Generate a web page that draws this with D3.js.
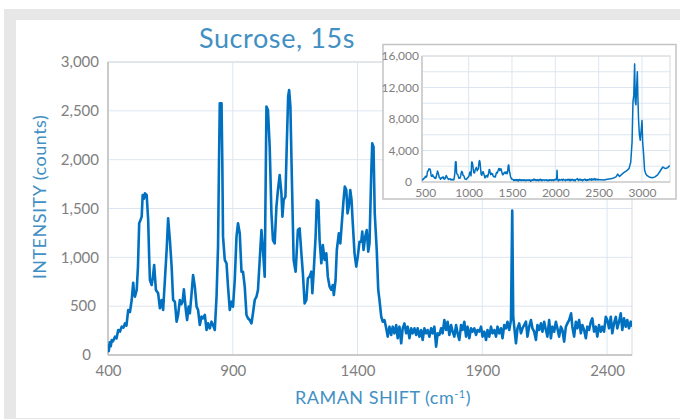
<!DOCTYPE html>
<html><head><meta charset="utf-8">
<script src="https://cdn.jsdelivr.net/npm/d3@7"></script>
<style>
html,body{margin:0;padding:0;background:#fff;}
svg{display:block;}
text{font-family:Lato, "Open Sans", sans-serif;}
</style></head>
<body>
<svg id="chart" width="680" height="419"></svg>
<script>
// ---- DATA ----
const mainShift = [400,403,407,411,415,420,428,434,441,448,455,462,468,474,481,488,495,501,505,508,515,520,525,530,535,539,544,548,555,561,565,568,575,580,585,592,601,608,615,621,628,635,641,648,655,661,668,675,681,688,694,699,704,712,717,723,728,735,741,748,755,761,768,775,781,788,795,801,808,815,821,828,835,841,845,848,855,858,861,868,875,881,888,895,901,908,915,921,928,935,941,948,955,961,968,975,981,988,995,1001,1008,1015,1021,1028,1032,1035,1041,1048,1055,1061,1068,1075,1081,1088,1095,1099,1104,1111,1117,1122,1126,1131,1137,1144,1152,1161,1168,1175,1181,1188,1195,1201,1208,1215,1219,1224,1232,1237,1243,1248,1255,1261,1268,1275,1281,1288,1295,1301,1305,1312,1317,1325,1331,1337,1344,1349,1355,1360,1365,1371,1376,1381,1388,1395,1401,1408,1415,1419,1424,1431,1437,1443,1448,1455,1459,1464,1469,1477,1483,1488,1495,1501,1508,1515,1521,1528,1535,1541,1548,1555,1561,1568,1575,1581,1588,1595,1601,1608,1615,1621,1628,1635,1641,1648,1655,1661,1668,1675,1681,1688,1695,1701,1708,1715,1721,1728,1735,1741,1748,1755,1761,1768,1775,1781,1788,1795,1801,1808,1815,1821,1828,1835,1841,1848,1855,1861,1868,1875,1881,1888,1895,1901,1908,1915,1921,1928,1935,1941,1948,1955,1961,1968,1975,1981,1988,1995,2001,2008,2015,2020,2024,2028,2035,2041,2048,2055,2061,2068,2075,2081,2088,2095,2101,2108,2115,2121,2128,2135,2141,2148,2155,2161,2168,2175,2181,2188,2195,2201,2208,2215,2221,2228,2235,2241,2248,2256,2261,2268,2275,2281,2288,2295,2301,2308,2315,2321,2328,2335,2341,2348,2355,2361,2368,2375,2381,2388,2395,2401,2408,2415,2421,2428,2435,2441,2448,2455,2461,2468,2475,2481,2488,2495,2501];
const mainCounts = [110,40,130,90,154,140,188,170,256,240,290,280,324,300,461,440,563,740,620,597,666,900,1348,1380,1417,1638,1600,1655,1638,1382,1000,768,717,800,922,666,632,478,563,461,768,1075,1399,1177,905,563,546,341,410,563,520,546,672,461,358,495,427,632,819,700,495,461,307,393,376,410,256,324,273,341,307,256,597,1110,2000,2577,2577,2000,1212,973,939,700,461,546,495,768,1212,1348,1246,853,853,700,410,376,358,324,427,563,597,666,973,1280,1075,802,1800,2543,2509,2133,1450,1177,1143,1519,1689,1843,1655,1417,1587,1621,2202,2650,2713,2543,1792,973,853,1280,1297,1041,836,529,563,785,802,853,632,836,1212,1587,1570,1177,939,1126,973,1041,802,700,666,717,614,768,1075,1246,1143,1348,1587,1724,1689,1450,1519,1689,1587,1348,1041,905,1007,1160,1160,1263,1075,1212,1280,1058,1143,1860,2167,2133,1450,1075,666,563,393,341,358,273,188,290,205,290,222,307,171,290,120,273,324,222,290,171,273,222,273,205,273,188,256,154,273,222,256,188,273,222,290,85,222,205,273,222,358,256,341,205,307,239,188,307,222,154,307,256,341,188,290,171,273,239,273,205,256,239,290,188,239,154,256,188,290,222,256,188,290,222,273,171,307,273,341,256,358,1478,392,290,120,273,324,222,273,307,341,188,290,358,273,239,154,307,256,324,239,341,256,188,358,171,290,239,341,273,188,290,256,137,290,324,358,427,290,188,341,273,358,222,307,256,171,290,256,341,375,239,290,188,307,239,290,239,392,358,273,392,222,324,392,273,341,427,256,375,290,358,273,341,290];
// high-wavenumber part shown only in the inset (full spectrum)
const highShift = [2520,2560,2600,2640,2680,2700,2720,2740,2760,2790,2820,2850,2870,2885,2896,2905,2915,2922,2930,2938,2946,2952,2960,2970,2980,2990,3000,3008,3018,3030,3045,3060,3090,3120,3150,3180,3210,3240,3270,3295,3320];
const highCounts = [300,250,350,400,550,650,1000,700,900,1200,1400,1700,2500,5000,10200,11000,15000,10200,9800,12000,14000,11000,8000,6000,5300,6500,7800,5000,3600,1500,1000,800,600,550,650,900,1400,1900,1700,1800,2100];

const title = "Sucrose, 15s";
const yTitle = "INTENSITY (counts)";
const mainXTicks = [400,900,1400,1900,2400];
const mainYTicks = [0,500,1000,1500,2000,2500,3000];
const insetXTicks = [500,1000,1500,2000,2500,3000];
const insetYLabels = [0,4000,8000,12000,16000];
const insetYGrid = [0,2000,4000,6000,8000,10000,12000,14000,16000];

// ---- DRAW ----
const svg = d3.select("#chart");
const blue = "#0070c0", grid = "#dce6f1", tickCol = "#808080", titleCol = "#4290c3";

// frame
svg.append("rect").attr("x",4).attr("y",9).attr("width",676).attr("height",410).attr("fill","#e7e7e7");
svg.append("rect").attr("x",16).attr("y",20).attr("width",664).attr("height",398).attr("fill","#fff");

const x = d3.scaleLinear().domain([400,2500]).range([108,632]);
const y = d3.scaleLinear().domain([0,3000]).range([355,62]);

const defs = svg.append("defs");
defs.append("clipPath").attr("id","clipMain").append("rect")
  .attr("x",x.range()[0]).attr("y",y.range()[1]-4).attr("width",x.range()[1]-x.range()[0]).attr("height",y.range()[0]-y.range()[1]+6);

// gridlines
svg.append("g").selectAll("line").data(mainYTicks.slice(1)).join("line")
  .attr("x1",x.range()[0]).attr("x2",x.range()[1]).attr("y1",d=>y(d)).attr("y2",d=>y(d))
  .attr("stroke",grid).attr("stroke-width",1);
svg.append("g").selectAll("line").data(mainXTicks.slice(1)).join("line")
  .attr("x1",d=>x(d)).attr("x2",d=>x(d)).attr("y1",y.range()[0]).attr("y2",y.range()[1])
  .attr("stroke",grid).attr("stroke-width",1);
// plot border
svg.append("rect").attr("x",x.range()[0]).attr("y",y.range()[1]).attr("width",x.range()[1]-x.range()[0]).attr("height",y.range()[0]-y.range()[1])
  .attr("fill","none").attr("stroke","#d9d9d9").attr("stroke-width",1);
// axis lines
svg.append("line").attr("x1",x.range()[0]).attr("x2",x.range()[0]).attr("y1",y.range()[1]).attr("y2",y.range()[0]).attr("stroke","#bfbfbf").attr("stroke-width",1.5);
svg.append("line").attr("x1",x.range()[0]).attr("x2",x.range()[1]).attr("y1",y.range()[0]).attr("y2",y.range()[0]).attr("stroke","#bfbfbf").attr("stroke-width",1.5);

// axes
const gx = svg.append("g").attr("transform",`translate(0,${y.range()[0]})`)
  .call(d3.axisBottom(x).tickValues(mainXTicks).tickSize(0).tickPadding(10).tickFormat(d3.format("d")));
gx.select(".domain").remove();
gx.selectAll("text").attr("fill",tickCol).style("font-size","15px");
const gy = svg.append("g").attr("transform",`translate(${x.range()[0]},0)`)
  .call(d3.axisLeft(y).tickValues(mainYTicks).tickSize(0).tickPadding(9).tickFormat(d3.format(",")));
gy.select(".domain").remove();
gy.selectAll("text").attr("fill",tickCol).style("font-size","15px")
  .attr("dx", d => d === 0 ? -8 : (d === 500 ? -3 : 0));

// main line
const mainData = mainShift.map((s,i)=>({s, c:mainCounts[i]}));
svg.append("path").datum(mainData).attr("clip-path","url(#clipMain)")
  .attr("fill","none").attr("stroke",blue).attr("stroke-width",2.6).attr("stroke-linejoin","round")
  .attr("d", d3.line().x(d=>x(d.s)).y(d=>y(d.c)));

// titles
svg.append("text").attr("x",277).attr("y",48).attr("text-anchor","middle")
  .attr("fill",titleCol).style("font-size","27px").style("letter-spacing","0.6px").text(title);
svg.append("text").attr("transform","translate(39,197) rotate(-90)").attr("text-anchor","middle")
  .attr("dominant-baseline","central").attr("fill",titleCol).style("font-size","18px").style("letter-spacing","0.5px").text(yTitle);
const xt = svg.append("text").attr("x",383).attr("y",404).attr("text-anchor","middle")
  .attr("fill",titleCol).style("font-size","18px").style("letter-spacing","0.5px");
xt.append("tspan").text("RAMAN SHIFT (cm");
xt.append("tspan").attr("dy",-6).style("font-size","11px").text("-1");
xt.append("tspan").attr("dy",6).text(")");

// ---- INSET ----
svg.append("rect").attr("x",383).attr("y",44.5).attr("width",293).attr("height",154.5)
  .attr("fill","#fff").attr("stroke","#c4c4c4").attr("stroke-width",1.5);
const xi = d3.scaleLinear().domain([462,3323]).range([422,670]);
const yi = d3.scaleLinear().domain([0,16000]).range([182,56]);
defs.append("clipPath").attr("id","clipInset").append("rect")
  .attr("x",xi.range()[0]).attr("y",yi.range()[1]-3).attr("width",xi.range()[1]-xi.range()[0]).attr("height",yi.range()[0]-yi.range()[1]+4);
svg.append("g").selectAll("line").data(insetYGrid.slice(1)).join("line")
  .attr("x1",xi.range()[0]).attr("x2",xi.range()[1]).attr("y1",d=>yi(d)).attr("y2",d=>yi(d))
  .attr("stroke",grid).attr("stroke-width",1);
svg.append("g").selectAll("line").data(insetXTicks.slice(1)).join("line")
  .attr("x1",d=>xi(d)).attr("x2",d=>xi(d)).attr("y1",yi.range()[0]).attr("y2",yi.range()[1])
  .attr("stroke",grid).attr("stroke-width",1);
svg.append("rect").attr("x",xi.range()[0]).attr("y",yi.range()[1]).attr("width",xi.range()[1]-xi.range()[0]).attr("height",yi.range()[0]-yi.range()[1])
  .attr("fill","none").attr("stroke","#d9d9d9").attr("stroke-width",1);
svg.append("line").attr("x1",xi.range()[0]).attr("x2",xi.range()[0]).attr("y1",yi.range()[1]).attr("y2",yi.range()[0]).attr("stroke","#bfbfbf").attr("stroke-width",1.2);
svg.append("line").attr("x1",xi.range()[0]).attr("x2",xi.range()[1]).attr("y1",yi.range()[0]).attr("y2",yi.range()[0]).attr("stroke","#bfbfbf").attr("stroke-width",1.2);
const gxi = svg.append("g").attr("transform",`translate(0,${yi.range()[0]})`)
  .call(d3.axisBottom(xi).tickValues(insetXTicks).tickSize(0).tickPadding(6).tickFormat(d3.format("d")));
gxi.select(".domain").remove();
gxi.selectAll("text").attr("fill",tickCol).style("font-size","12px");
const gyi = svg.append("g").attr("transform",`translate(${xi.range()[0]},0)`)
  .call(d3.axisLeft(yi).tickValues(insetYLabels).tickSize(0).tickPadding(3).tickFormat(d3.format(",")));
gyi.select(".domain").remove();
gyi.selectAll("text").attr("fill",tickCol).style("font-size","12px")
  .attr("dx", d => d === 0 ? -7 : 0);

const insetData = mainData.filter(d=>d.s>=455).concat(highShift.map((s,i)=>({s, c:highCounts[i]})));
svg.append("path").datum(insetData).attr("clip-path","url(#clipInset)")
  .attr("fill","none").attr("stroke",blue).attr("stroke-width",1.5).attr("stroke-linejoin","round")
  .attr("d", d3.line().x(d=>xi(d.s)).y(d=>yi(d.c)));
</script>
</body></html>
